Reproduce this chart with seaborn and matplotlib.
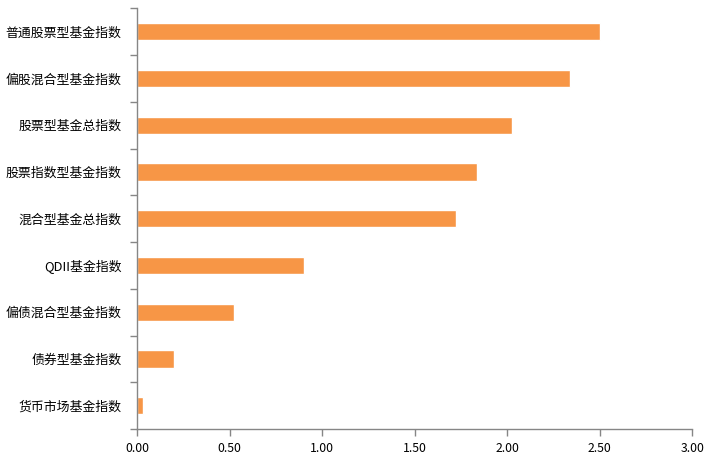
import matplotlib
matplotlib.use("Agg")
import matplotlib.pyplot as plt
import seaborn as sns
import pandas as pd
import numpy as np
from matplotlib.ticker import FixedLocator

categories = ["普通股票型基金指数", "偏股混合型基金指数", "股票型基金总指数", "股票指数型基金指数",
              "混合型基金总指数", "QDII基金指数", "偏债混合型基金指数", "债券型基金指数", "货币市场基金指数"]
values = [2.50, 2.34, 2.025, 1.835, 1.725, 0.90, 0.525, 0.20, 0.035]
xticks = [0.0, 0.5, 1.0, 1.5, 2.0, 2.5, 3.0]
xticklabels = ["0.00", "0.50", "1.00", "1.50", "2.00", "2.50", "3.00"]

sns.set_theme(style="white")
plt.rcParams['font.family'] = ['Noto Sans CJK SC', 'DejaVu Sans']

df = pd.DataFrame({"cat": categories, "val": values})
fig = plt.figure(figsize=(7.15, 4.62), dpi=100)
ax = fig.add_axes([0.1916, 0.0714, 0.7766, 0.9106])
sns.barplot(data=df, x="val", y="cat", color="#F79646", saturation=1, width=0.37, ax=ax, order=categories)

ax.set_xlim(0, 3.0)
ax.set_ylim(len(categories) - 0.5, -0.5)
ax.set_xticks(xticks)
ax.set_xticklabels(xticklabels, fontsize=8.8, color="black")
ax.set_xlabel("")
ax.set_ylabel("")
ax.tick_params(axis="y", which="major", length=0, pad=11, labelsize=9.3, labelcolor="black")
ax.yaxis.set_minor_locator(FixedLocator(np.arange(-0.5, len(categories), 1.0)))
ax.tick_params(axis="y", which="minor", length=5, width=1, color="#868686", direction="out", left=True)
ax.tick_params(axis="x", which="major", length=5, width=1, color="#868686", direction="out", bottom=True, pad=4)
for s in ["top", "right"]:
    ax.spines[s].set_visible(False)
for s in ["left", "bottom"]:
    ax.spines[s].set_color("#868686")
    ax.spines[s].set_linewidth(1)
ax.grid(False)

fig.savefig("out.png", dpi=100)
